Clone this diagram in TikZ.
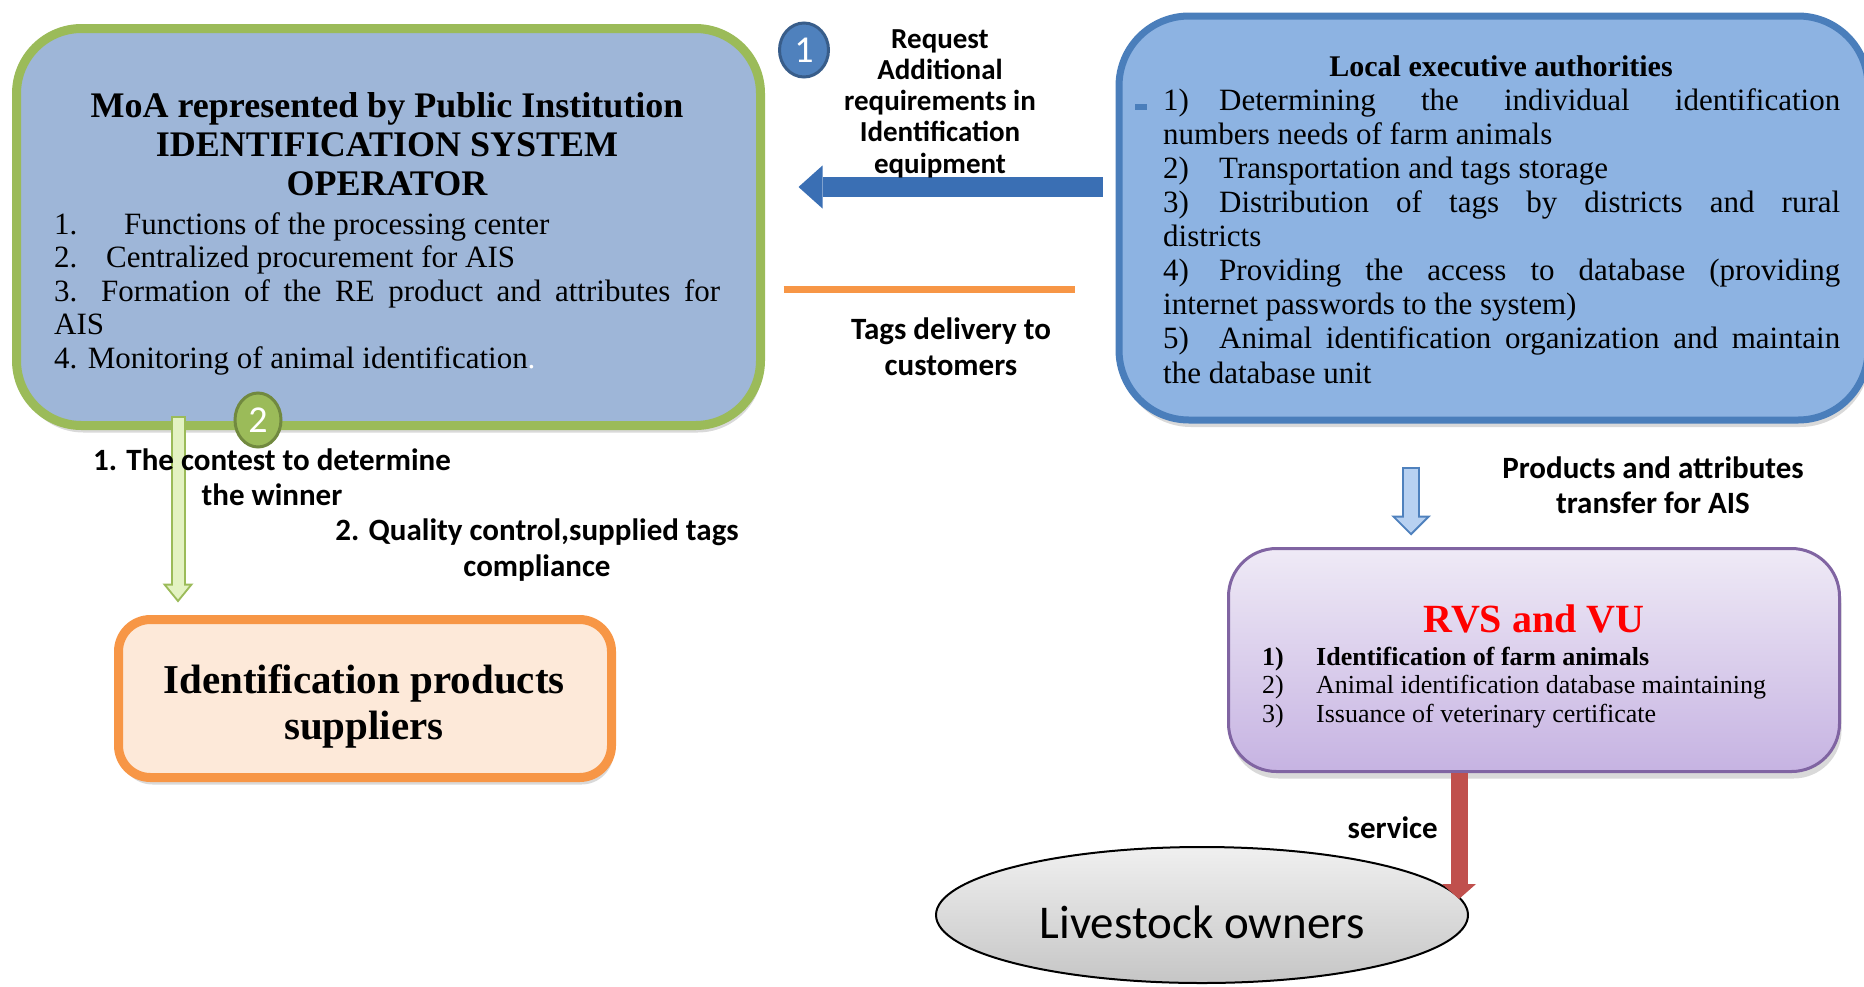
\documentclass[tikz,border=0pt]{standalone}
\usepackage{fontspec}
\setmainfont{Liberation Serif}
\newfontfamily\calibri{Carlito}
\usetikzlibrary{arrows.meta,shapes.geometric,shadows,positioning}
\definecolor{moafill}{HTML}{9EB6D8}
\definecolor{moaline}{HTML}{9BBB59}
\definecolor{leafill}{HTML}{8DB3E2}
\definecolor{lealine}{HTML}{4A7EBB}
\definecolor{num1fill}{HTML}{4F81BD}
\definecolor{num1line}{HTML}{385D8A}
\definecolor{reqblue}{HTML}{3A6FB4}
\definecolor{delorange}{HTML}{F79646}
\definecolor{supfill}{HTML}{FDE9D9}
\definecolor{grfill}{HTML}{E3F2C2}
\definecolor{num2line}{HTML}{71893F}
\definecolor{lbfill}{HTML}{B8D1F1}
\definecolor{rvstop}{HTML}{EFEAF6}
\definecolor{rvsbot}{HTML}{C6B3E2}
\definecolor{rvsline}{HTML}{8064A2}
\definecolor{redarrow}{HTML}{C0504D}
\newcommand{\spreadline}[2]{\makebox[#1][s]{#2}}

\begin{document}
\begin{tikzpicture}[x=1pt,y=-1pt,
		shadowed/.style={drop shadow={opacity=0.3,shadow xshift=2pt,shadow yshift=-7pt}},
		moabox/.style={shadowed,draw=moaline,fill=moafill,line width=9pt,rounded corners=65pt,minimum width=744pt,minimum height=397pt},
		leabox/.style={shadowed,draw=lealine,fill=leafill,line width=7pt,rounded corners=70pt,minimum width=749pt,minimum height=404pt},
		supbox/.style={shadowed,draw=delorange,fill=supfill,line width=9pt,rounded corners=32pt,minimum width=493pt,minimum height=158pt},
		rvsbox/.style={shadowed,draw=rvsline,top color=rvstop,bottom color=rvsbot,line width=3pt,rounded corners=48pt,minimum width=611pt,minimum height=223pt},
		numdot/.style={ellipse,line width=3pt,text=white,inner sep=0pt,font=\calibri\fontsize{38}{38}\selectfont},
		serif/.style={inner sep=0pt,anchor=base},
		lbl/.style={inner sep=0pt,anchor=base,align=center,font=\calibri\fontsize{31}{36}\selectfont\bfseries}
	]
	\useasboundingbox (0,0) rectangle (1864,986);

	% boxes
	\node[moabox] (moa) at (388.5,227) {};
	\node[leabox] (lea) at (1493.5,218) {};
	\node[supbox] (sup) at (365,698.5) {};
	\node[rvsbox] (rvs) at (1534,660) {};
	\node[ellipse,draw,line width=2pt,top color=gray!12,bottom color=gray!45,minimum width=532pt,minimum height=136pt,
		font=\calibri\fontsize{47}{47}\selectfont] (own) at (1202,915) {\raisebox{-7pt}[32pt][0pt]{Livestock owners}};

	% texts in the boxes (anchored at the last line)
	\node[serif,align=center,font=\fontsize{36}{39}\selectfont\bfseries] (moahead) at (387,195)
		{MoA represented by Public Institution\\IDENTIFICATION SYSTEM\\OPERATOR};
	\node[serif,anchor=base west,align=left,font=\fontsize{31}{33.5}\selectfont] (moalist) at (54,368)
		{\makebox[70pt][l]{1.}Functions of the processing center\\
		\makebox[52pt][l]{2.}Centralized procurement for AIS\\
		\spreadline{666pt}{\makebox[47pt][l]{3.}Formation of the RE product and attributes for}\\
		AIS\\
		4. Monitoring of animal identification{\color{white}.}};
	\node[serif,font=\fontsize{30}{34}\selectfont\bfseries] (leahead) at (1501,76) {Local executive authorities};
	\node[serif,anchor=base west,align=left,font=\fontsize{31}{34.1}\selectfont] (lealist) at (1163,383)
		{\spreadline{677pt}{\makebox[56pt][l]{1)}Determining the individual identification}\\
		numbers needs of farm animals\\
		\makebox[56pt][l]{2)}Transportation and tags storage\\
		\spreadline{677pt}{\makebox[56pt][l]{3)}Distribution of tags by districts and rural}\\
		districts\\
		\spreadline{677pt}{\makebox[56pt][l]{4)}Providing the access to database (providing}\\
		internet passwords to the system)\\
		\spreadline{677pt}{\makebox[56pt][l]{5)}Animal identification organization and maintain}\\
		the database unit};
	\fill[lealine] (1135,104) rectangle (1147,110);
	\node[serif,align=center,font=\fontsize{41}{46}\selectfont\bfseries] (suphead) at (364,739)
		{Identification products\\suppliers};
	\node[serif,text=red,font=\fontsize{40}{44}\selectfont\bfseries] (rvshead) at (1534,632) {RVS and VU};
	\node[serif,anchor=base west,align=left,font=\fontsize{26}{28.5}\selectfont] (rvslist) at (1262,722)
		{\textbf{\makebox[54pt][l]{1)}Identification of farm animals}\\
		\makebox[54pt][l]{2)}Animal identification database maintaining\\
		\makebox[54pt][l]{3)}Issuance of veterinary certificate};

	% arrows
	\coordinate (reqy) at (0,187);
	\coordinate (dely) at (0,289);
	\coordinate (gtop) at (178,416);
	\coordinate (btop) at (1411,0);
	\coordinate (svc) at (1459,899);
	\draw[reqblue,line width=20pt,-{Triangle[length=24pt,width=43pt,line width=0pt]},shorten <=13pt,shorten >=33.5pt]
		(lea.west |- reqy) -- (moa.east |- reqy);
	\draw[delorange,line width=7pt,shorten <=18.5pt,shorten >=41pt] (moa.east |- dely) -- (lea.west |- dely);
	\draw[moaline,line width=15pt,-{Triangle[length=19pt,width=31pt,line width=0pt]},shorten >=12.5pt]
		(gtop) -- (sup.north -| gtop);
	\draw[grfill,line width=11pt,-{Triangle[length=13.8pt,width=22.6pt,line width=0pt]},shorten <=2pt,shorten >=15.7pt]
		(gtop) -- (sup.north -| gtop);
	\draw[num1fill,line width=18pt,-{Triangle[length=20pt,width=40pt,line width=0pt]},shorten <=43pt,shorten >=11.5pt]
		(lea.south -| btop) -- (rvs.north -| btop);
	\draw[lbfill,line width=14pt,-{Triangle[length=15.2pt,width=30.3pt,line width=0pt]},shorten <=45pt,shorten >=14.3pt]
		(lea.south -| btop) -- (rvs.north -| btop);
	\draw[redarrow,line width=17pt,-{Triangle[length=15pt,width=34pt,line width=0pt]}] (rvs.south -| svc) -- (svc);

	% numbers
	\node[numdot,fill=num1fill,draw=num1line,minimum width=49pt,minimum height=54pt] (n1) at (804,50) {1};
	\node[numdot,fill=moaline,draw=num2line,minimum width=46pt,minimum height=54pt] (n2) at (258,420) {2};

	% labels (anchored at the last line)
	\node[lbl,font=\calibri\fontsize{29}{31.2}\selectfont\bfseries] (req) at (940,173)
		{Request\\Additional\\requirements in\\Identification\\equipment};
	\node[lbl] (deliv) at (951,375) {Tags delivery to\\customers};
	\node[lbl,font=\calibri\fontsize{31}{35}\selectfont\bfseries] (prod) at (1653,513) {Products and attributes\\transfer for AIS};
	\node[lbl,font=\calibri\fontsize{31}{35}\selectfont\bfseries] (contest) at (272,505) {1. The contest to determine\\the winner};
	\node[lbl] (quality) at (537,576) {2. Quality control,supplied tags\\compliance};
	\node[lbl,anchor=base east] (serv) at (1438,838) {service};
\end{tikzpicture}
\end{document}
